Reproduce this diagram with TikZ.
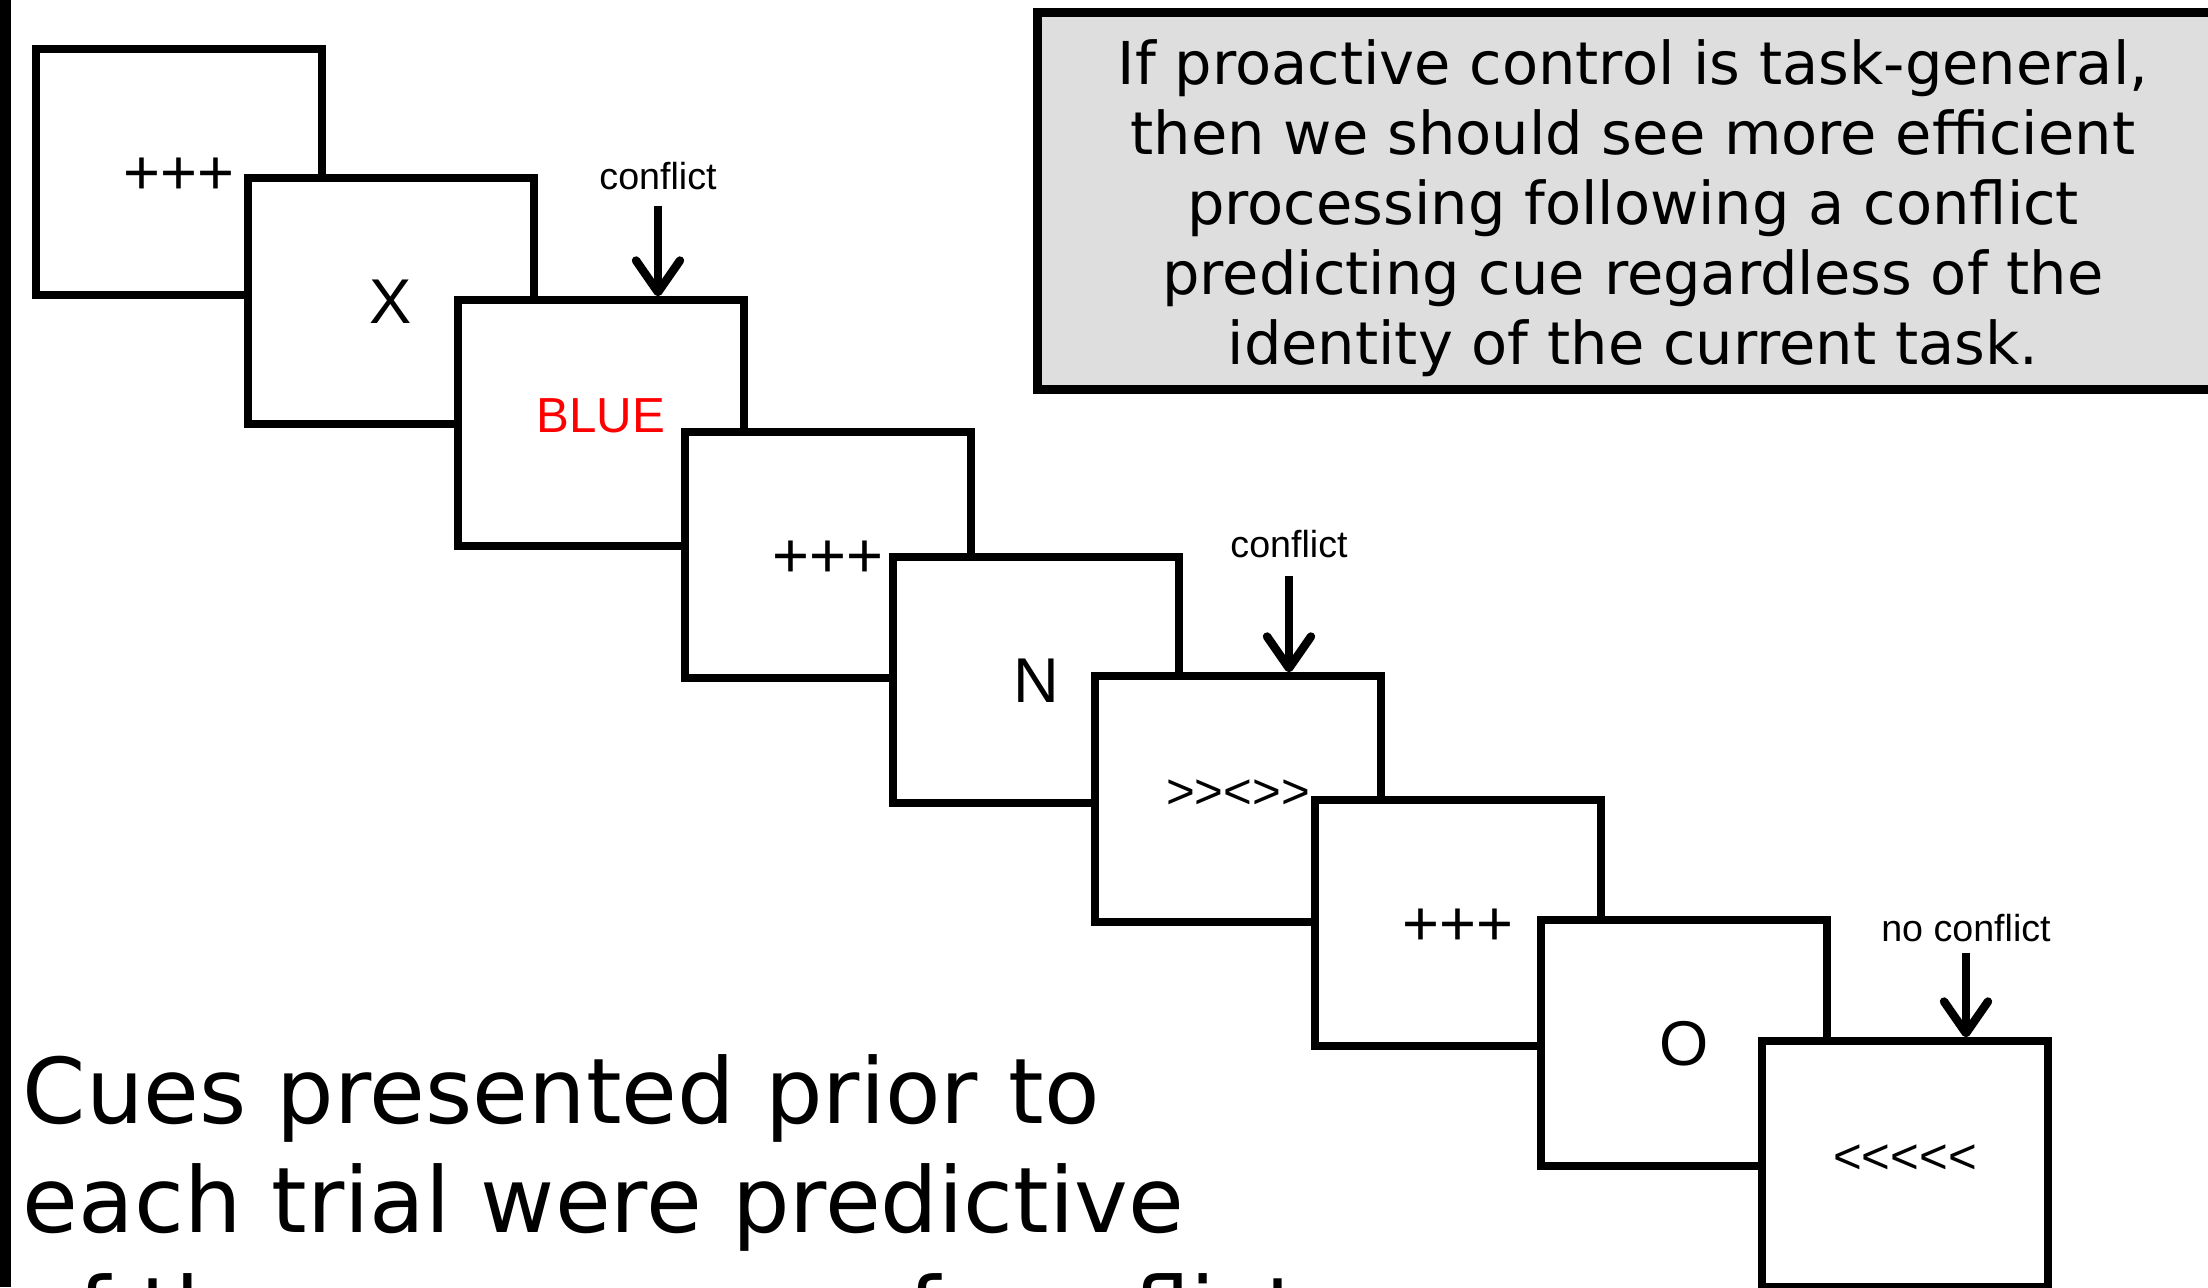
\documentclass[tikz,border=0pt]{standalone}
\usepackage{fontspec}
\setmainfont{DejaVu Sans}
\newfontfamily\arial{Liberation Sans}
\usetikzlibrary{arrows.meta,positioning}
\definecolor{notegray}{HTML}{DEDEDE}

\begin{document}
\begin{tikzpicture}[x=0.01cm,y=-0.01cm,
  screen/.style={draw,line width=2.3pt,fill=white,minimum width=2.85cm,minimum height=2.45cm,inner sep=0pt,text height=12.9pt,text depth=0pt,font=\arial\fontsize{18}{20}\selectfont},
  small/.style={text height=5.6pt,font=\arial\fontsize{14}{16}\selectfont},
  cue/.style={inner sep=0pt,font=\arial\fontsize{10.7}{12}\selectfont},
  down/.style={line width=2.4pt,-{Straight Barb[length=9pt,width=12.5pt,line cap=round,line join=round]}},
  note/.style={draw,line width=2.6pt,fill=notegray,minimum width=11.9cm,minimum height=3.76cm},
  notetext/.style={inner sep=0pt,align=center,font=\fontsize{16.8}{19.9}\selectfont}]
\useasboundingbox (0,0) rectangle (2208,1287);
\clip (0,0) rectangle (2208,1287);
\fill (0,0) rectangle (11,1287);

\node[screen] (s1) at (179,172) {+++};
\node[screen] (s2) at (391,301) {X};
\node[screen,small,text=red] (s3) at (601,423) {BLUE};
\node[screen] (s4) at (828,555) {+++};
\node[screen] (s5) at (1036,680) {N};
\node[screen,small] (s6) at (1238,799) {>{}>{}<{}>{}>};
\node[screen] (s7) at (1458,923) {+++};
\node[screen] (s8) at (1684,1043) {O};
\node[screen,small] (s9) at (1905,1164) {<{}<{}<{}<{}<};

\node[cue] (c1) at (658,176) {conflict};
\node[cue] (c2) at (1289,544) {conflict};
\node[cue] (c3) at (1966,928) {no conflict};

\draw[down] ([yshift=-0.15cm]c1.south) -- (c1.south |- s3.north);
\draw[down] ([yshift=-0.17cm]c2.south) -- (c2.south |- s6.north);
\draw[down] ([yshift=-0.1cm]c3.south) -- (c3.south |- s9.north);

\node[note] (n) at (1633,201) {};
\node[notetext] (nt) at ([yshift=-0.07cm]n.center) {If proactive control is task-general,\\ then we should see more efficient\\ processing following a conflict\\ predicting cue regardless of the\\ identity of the current task.};

\node[anchor=base west,text width=13cm,align=left,inner sep=0pt,font=\fontsize{25.8}{31.2}\selectfont] (cues) at (22,1123) {Cues presented prior to\\ each trial were predictive\\ of the occurrence of conflict};
\end{tikzpicture}
\end{document}
